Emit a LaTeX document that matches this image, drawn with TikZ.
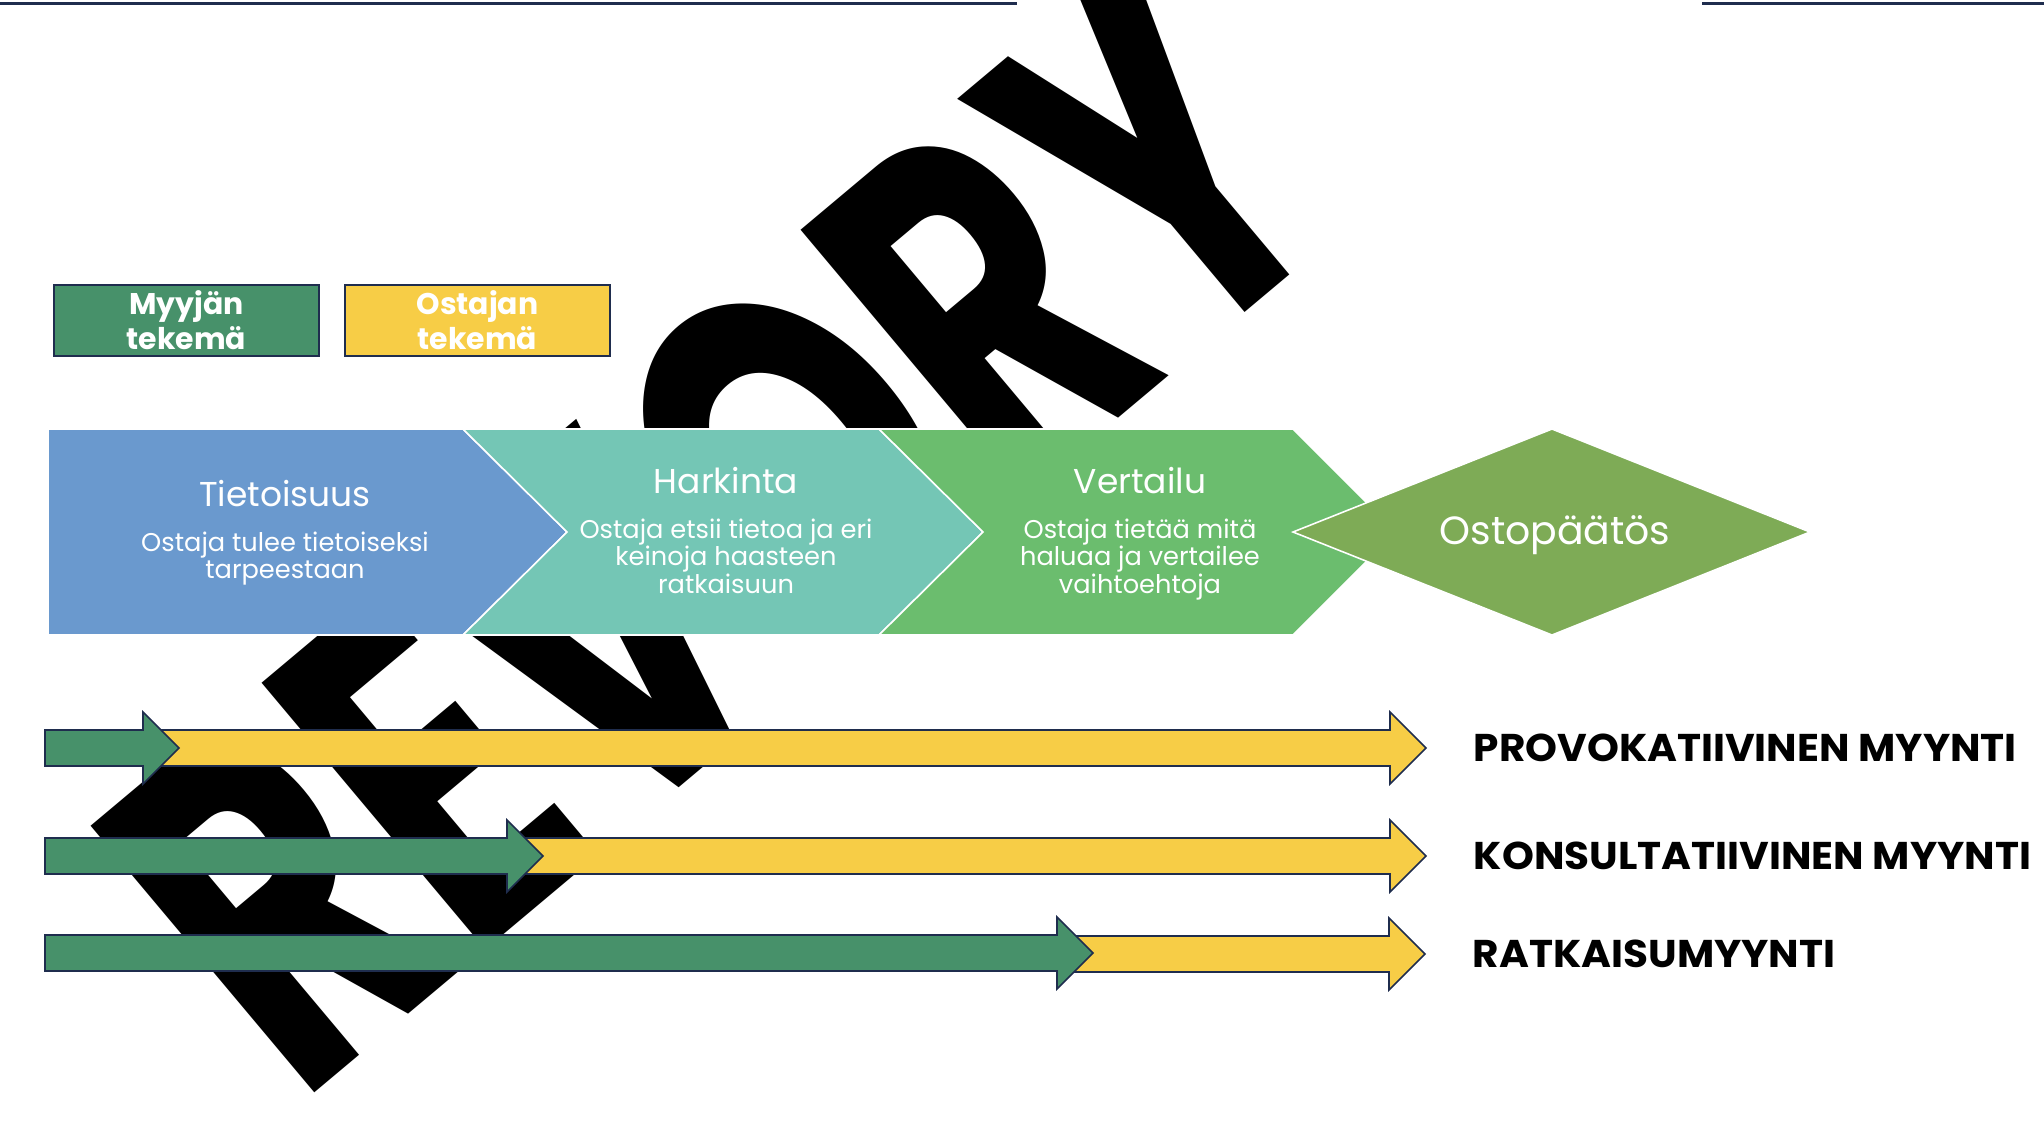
\documentclass[tikz,border=0pt]{standalone}
\usepackage{fontspec}
\setmainfont{Poppins}
\usepackage{tikz}
\usetikzlibrary{positioning}
\setlength{\lineskiplimit}{-10pt}
\definecolor{navy}{HTML}{1F2D4E}
\definecolor{stageblue}{HTML}{6A99CE}
\definecolor{stageteal}{HTML}{74C6B5}
\definecolor{stagegreen}{HTML}{6BBD6E}
\definecolor{decision}{HTML}{7EAB56}
\definecolor{seller}{HTML}{47916A}
\definecolor{buyer}{HTML}{F7CD46}
\tikzstyle{stage} = [draw=white, line width=0.45pt]
\tikzstyle{legendbox} = [draw=navy, line width=0.7pt, inner sep=0pt, minimum width=2.65cm,
    minimum height=0.71cm, align=center, text=white,
    font=\bfseries\fontsize{8.5}{10}\selectfont]
\tikzstyle{stagetitle} = [text=white, inner sep=0pt, anchor=base,
    font=\fontsize{9.8}{12}\selectfont]
\tikzstyle{stagetext} = [text=white, inner sep=0pt, anchor=base, align=center,
    font=\fontsize{7.3}{7.82}\selectfont]
\tikzstyle{blockarrow} = [draw=navy, line width=0.45pt]
\tikzstyle{salestype} = [inner sep=0pt, xscale=1.05, font=\bfseries\fontsize{11}{13}\selectfont]
\tikzstyle{watermark} = [anchor=base west, inner sep=0pt, rotate=40, xscale=0.69,
    font=\bfseries\fontsize{141}{141}\selectfont]

\begin{document}
\begin{tikzpicture}[x=0.01cm, y=-0.01cm, node distance = 1cm]
  \useasboundingbox (0,0) rectangle (2044,1138);
  % watermark behind everything
  \node [watermark] (wm) at (298,1107) {REVORY};
  % top rule
  \draw [navy, line width=0.85pt] (0,3) -- (1017,3);
  \draw [navy, line width=0.85pt] (1702,3) -- (2044,3);
  % legend
  \node [legendbox, fill=seller] (myyja) at (186.5,320.5) {Myyjän\\tekemä};
  \node [legendbox, fill=buyer] (ostaja) at (477.5,320.5) {Ostajan\\tekemä};
  % buying stages
  \path [stage, fill=stageblue] (48,429) -- (463,429) -- (567,532) -- (463,635) -- (48,635) -- cycle;
  \path [stage, fill=stageteal] (463,429) -- (879,429) -- (983,532) -- (879,635) -- (463,635) -- (567,532) -- cycle;
  \path [stage, fill=stagegreen] (879,429) -- (1293,429) -- (1396,532) -- (1293,635) -- (879,635) -- (983,532) -- cycle;
  \path [stage, fill=decision] (1293,532) -- (1552,429) -- (1810,532) -- (1552,635) -- cycle;
  \node [stagetitle] (t1) at (285,506.7) {Tietoisuus};
  \node [stagetext] (d1) at (285,578.7) {Ostaja tulee tietoiseksi\\tarpeestaan};
  \node [stagetitle] (t2) at (726,493.7) {Harkinta};
  \node [stagetext] (d2) at (726,593) {Ostaja etsii tietoa ja eri\\keinoja haasteen\\ratkaisuun};
  \node [stagetitle] (t3) at (1140,493.7) {Vertailu};
  \node [stagetext] (d3) at (1140,593) {Ostaja tietää mitä\\haluaa ja vertailee\\vaihtoehtoja};
  \node [stagetitle, font=\fontsize{11.2}{14}\selectfont] (t4) at (1555,544.7) {Ostopäätös};
  % who does the work
  \path [blockarrow, fill=buyer] (143,730) -- (1390,730) -- (1390,712) -- (1426,748) -- (1390,784) -- (1390,766) -- (143,766) -- cycle;
  \path [blockarrow, fill=seller] (45,730) -- (143,730) -- (143,712) -- (179,748) -- (143,784) -- (143,766) -- (45,766) -- cycle;
  \path [blockarrow, fill=buyer] (507,838) -- (1390,838) -- (1390,820) -- (1426,856) -- (1390,892) -- (1390,874) -- (507,874) -- cycle;
  \path [blockarrow, fill=seller] (45,838) -- (507,838) -- (507,820) -- (543,856) -- (507,892) -- (507,874) -- (45,874) -- cycle;
  \path [blockarrow, fill=buyer] (1057,936) -- (1389,936) -- (1389,918) -- (1425,954) -- (1389,990) -- (1389,972) -- (1057,972) -- cycle;
  \path [blockarrow, fill=seller] (45,935) -- (1057,935) -- (1057,917) -- (1093,953) -- (1057,989) -- (1057,971) -- (45,971) -- cycle;
  \coordinate (a1) at (1426,748);
  \coordinate (a2) at (1426,856);
  \coordinate (a3) at (1425,954);
  \node [salestype, right=0.47cm of a1] (l1) {PROVOKATIIVINEN MYYNTI};
  \node [salestype, right=0.47cm of a2] (l2) {KONSULTATIIVINEN MYYNTI};
  \node [salestype, right=0.47cm of a3] (l3) {RATKAISUMYYNTI};
\end{tikzpicture}
\end{document}
